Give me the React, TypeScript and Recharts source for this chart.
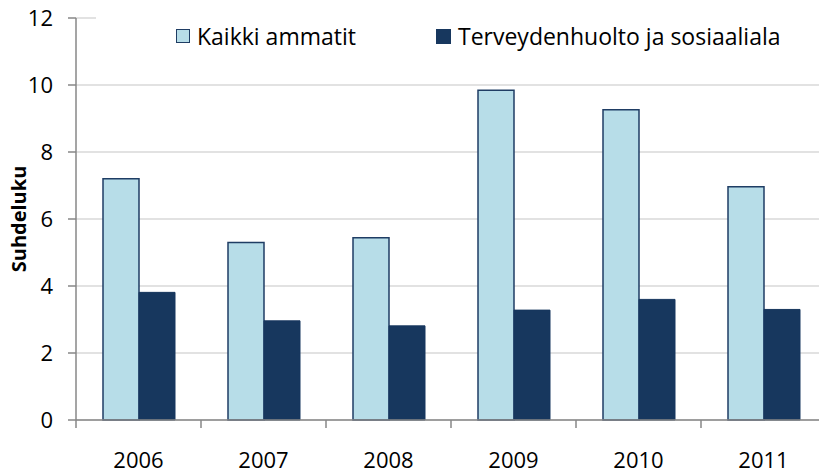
import React from 'react';
import { BarChart, Bar, XAxis, YAxis, CartesianGrid } from 'recharts';

const years = ['2006', '2007', '2008', '2009', '2010', '2011'];
const kaikkiAmmatit = [7.2, 5.3, 5.44, 9.84, 9.26, 6.96];
const terveydenhuolto = [3.81, 2.96, 2.81, 3.28, 3.6, 3.3];
const yTicks = [0, 2, 4, 6, 8, 10, 12];

const seriesNames = { kaikki: 'Kaikki ammatit', terveys: 'Terveydenhuolto ja sosiaaliala' };

const LIGHT = '#B7DDE8';
const LIGHT_EDGE = '#1F3D64';
const DARK = '#17375E';
const AXIS = '#878787';
const GRID = '#D9D9D9';
const FONT = '"Open Sans", sans-serif';

const chartData = years.map((y, i) => ({
  year: y,
  kaikki: kaikkiAmmatit[i],
  terveys: terveydenhuolto[i],
}));

// x ticks sit between categories, label in the middle
const YearTick = (props: any) => {
  const { x, y, payload, index, visibleTicksCount } = props;
  const half = payload && payload.offset ? payload.offset : 62.5;
  return (
    <g>
      <line x1={x - half} y1={y - 8} x2={x - half} y2={y} stroke={AXIS} strokeWidth={1.5} />
      {index === visibleTicksCount - 1 && (
        <line x1={x + half} y1={y - 8} x2={x + half} y2={y} stroke={AXIS} strokeWidth={1.5} />
      )}
      <text x={x} y={y + 40} textAnchor="middle" fill="#000" fontSize={22} fontFamily={FONT}>
        {payload.value}
      </text>
    </g>
  );
};

const YLabel = (props: any) => {
  const { viewBox } = props;
  const cy = viewBox.y + viewBox.height / 2;
  return (
    <text
      x={18}
      y={cy}
      transform={`rotate(-90, 18, ${cy})`}
      textAnchor="middle"
      dominantBaseline="central"
      fontFamily={FONT}
      fontSize={20}
      fontWeight={700}
      fill="#000"
    >
      Suhdeluku
    </text>
  );
};

const LegendBox = () => (
  <div
    style={{
      position: 'absolute', top: 14, left: 96, width: 740, height: 44,
      display: 'flex', alignItems: 'center', fontFamily: FONT, fontSize: 23, color: '#000', background: '#fff',
    }}
  >
    <div style={{ width: 12, height: 12, background: LIGHT, border: `1.5px solid ${LIGHT_EDGE}`, marginLeft: 80, marginRight: 7 }} />
    <span>{seriesNames.kaikki}</span>
    <div style={{ width: 15, height: 15, background: DARK, marginLeft: 80, marginRight: 7 }} />
    <span>{seriesNames.terveys}</span>
  </div>
);

export default function App() {
  return (
    <div style={{ position: 'fixed', left: 0, top: 0, width: 819, height: 475, overflow: 'hidden', background: '#fff' }}>
      <BarChart
        width={846}
        height={475}
        data={chartData}
        margin={{ top: 18, right: 20, left: 0, bottom: 0 }}
        barGap={0}
        barSize={36}
      >
        <CartesianGrid vertical={false} stroke={GRID} strokeWidth={1.5} />
        <XAxis
          dataKey="year"
          height={55}
          axisLine={{ stroke: AXIS, strokeWidth: 1.5 }}
          tickLine={false}
          tickSize={8}
          tickMargin={0}
          tick={<YearTick />}
          interval={0}
        />
        <YAxis
          width={76}
          domain={[0, 12]}
          ticks={yTicks}
          axisLine={{ stroke: AXIS, strokeWidth: 1.5 }}
          tickLine={{ stroke: AXIS, strokeWidth: 1.5 }}
          tickSize={8}
          tickMargin={15}
          tick={{ fill: '#000', fontSize: 22, fontFamily: FONT }}
          label={<YLabel />}
        />
        <Bar dataKey="kaikki" name={seriesNames.kaikki} fill={LIGHT} stroke={LIGHT_EDGE} strokeWidth={1.5} isAnimationActive={false} />
        <Bar dataKey="terveys" name={seriesNames.terveys} fill={DARK} stroke={DARK} strokeWidth={1} isAnimationActive={false} />
      </BarChart>
      <LegendBox />
    </div>
  );
}
